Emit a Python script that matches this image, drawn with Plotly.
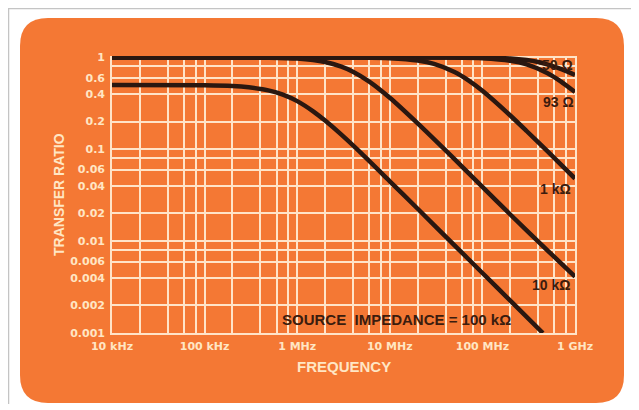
import plotly.graph_objects as go

# ---- data ----
x_tick_vals = [1e4, 1e5, 1e6, 1e7, 1e8, 1e9]
x_tick_text = ["10 kHz", "100 kHz", "1 MHz", "10 MHz", "100 MHz", "1 GHz"]
y_tick_vals = [1, 0.6, 0.4, 0.2, 0.1, 0.06, 0.04, 0.02, 0.01, 0.006, 0.004, 0.002, 0.001]
y_tick_text = ["1", "0.6", "0.4", "0.2", "0.1", "0.06", "0.04", "0.02", "0.01", "0.006", "0.004", "0.002", "0.001"]

r100k_f = [1e4, 1e5, 2e5, 3e5, 5e5, 7e5, 1e6, 1.5e6, 2e6, 3e6, 5e6, 1e7, 2e7, 5e7, 1e8, 2e8, 4.5e8]
r100k_v = [0.5, 0.497, 0.488, 0.472, 0.435, 0.393, 0.334, 0.257, 0.205, 0.144, 0.089, 0.0448, 0.0225, 0.009, 0.0045, 0.00225, 0.001]

r10k_f = [1e4, 1e5, 5e5, 1e6, 2e6, 3e6, 4e6, 6e6, 1e7, 2e7, 5e7, 1e8, 2e8, 5e8, 1e9]
r10k_v = [1, 1, 0.992, 0.969, 0.89, 0.793, 0.698, 0.545, 0.363, 0.191, 0.078, 0.039, 0.0195, 0.0080, 0.0041]

r1k_f = [1e4, 1e6, 5e6, 1e7, 2e7, 3e7, 5e7, 7e7, 1e8, 2e8, 3e8, 5e8, 1e9]
r1k_v = [1, 1, 0.995, 0.979, 0.923, 0.848, 0.693, 0.566, 0.433, 0.233, 0.158, 0.096, 0.048]

r93_f = [1e4, 1e7, 5e7, 1e8, 2e8, 3e8, 5e8, 7e8, 1e9]
r93_v = [1, 1, 0.994, 0.977, 0.917, 0.838, 0.677, 0.549, 0.42]

r50_f = [1e4, 1e7, 1e8, 2e8, 3e8, 4e8, 5e8, 7e8, 1e9]
r50_v = [1, 1, 0.993, 0.972, 0.935, 0.89, 0.84, 0.75, 0.645]

series = [
    (r50_f, r50_v), (r93_f, r93_v), (r1k_f, r1k_v), (r10k_f, r10k_v), (r100k_f, r100k_v)
]

# ---- layout geometry (window pixels; page body has an 8px margin) ----
OFF = 8
W, H = 639 - OFF, 410 - OFF
L, R, T, B = 112, 575, 56, 333

def xp(px):
    return (px - L) / (R - L)

def yp(py):
    return (B - py) / (B - T)

ORANGE = "#F47834"
GRID = "#FFE4C8"
CREAM = "#FFE6C4"
INK = "#2A1710"
LABEL = "#3B1C0E"

fig = go.Figure()
for f, v in series:
    fig.add_trace(go.Scatter(x=f, y=v, mode="lines", line=dict(color=INK, width=4.5, shape="spline", smoothing=0.6),
                             showlegend=False, hoverinfo="skip"))

minor_x = []
for d in [1e4, 1e5, 1e6, 1e7, 1e8]:
    for m in [2, 4, 6, 8]:
        minor_x.append(d * m)
minor_y = []
for d in [1e-3, 1e-2, 1e-1]:
    for m in [2, 4, 6, 8]:
        minor_y.append(d * m)

tickfont = dict(family="DejaVu Sans", size=11, color=CREAM, weight="bold")

fig.update_xaxes(type="log", range=[4, 9], tickmode="array", tickvals=x_tick_vals, ticktext=x_tick_text,
                 showgrid=True, gridcolor=GRID, gridwidth=1.6, ticks="", tickfont=tickfont,
                 showline=True, linecolor=GRID, linewidth=1.6, zeroline=False, ticklabelstandoff=2,
                 minor=dict(tickmode="array", tickvals=minor_x, showgrid=True, gridcolor=GRID, gridwidth=1.6, ticks=""))
fig.update_yaxes(type="log", range=[-3, 0.015], tickmode="array", tickvals=y_tick_vals, ticktext=y_tick_text,
                 showgrid=True, gridcolor=GRID, gridwidth=1.6, ticks="", tickfont=tickfont,
                 showline=True, mirror=True, linecolor=GRID, linewidth=1.6, zeroline=False, ticklabelstandoff=3,
                 minor=dict(tickmode="array", tickvals=minor_y, showgrid=True, gridcolor=GRID, gridwidth=1.6, ticks=""))

# card background
x0, x1 = xp(20), xp(624)
yT, yB = yp(18), yp(403)
rx, ry = 28 / (R - L), 28 / (B - T)
path = (f"M {x0+rx},{yT} L {x1-rx},{yT} Q {x1},{yT} {x1},{yT-ry} L {x1},{yB+ry} Q {x1},{yB} {x1-rx},{yB} "
        f"L {x0+rx},{yB} Q {x0},{yB} {x0},{yB+ry} L {x0},{yT-ry} Q {x0},{yT} {x0+rx},{yT} Z")
shapes = [
    dict(type="path", xref="paper", yref="paper", path=path, fillcolor=ORANGE, line=dict(width=0), layer="below"),
    dict(type="line", xref="paper", yref="paper", x0=xp(8), x1=xp(632), y0=yp(8.5), y1=yp(8.5),
         line=dict(color="#C4C4C4", width=1.5), layer="below"),
    dict(type="line", xref="paper", yref="paper", x0=xp(8.5), x1=xp(8.5), y0=yp(8), y1=yp(404),
         line=dict(color="#C4C4C4", width=1.5), layer="below"),
]

lab_font = dict(family="Liberation Sans", size=14, color=LABEL)
annotations = [
    dict(text="<b>50 Ω</b>", x=xp(557), y=yp(65)),
    dict(text="<b>93 Ω</b>", x=xp(558), y=yp(102)),
    dict(text="<b>1 kΩ</b>", x=xp(555), y=yp(189)),
    dict(text="<b>10 kΩ</b>", x=xp(551), y=yp(285)),
    dict(text="<b>SOURCE  IMPEDANCE = 100 kΩ</b>", x=xp(396), y=yp(319), font=dict(family="Liberation Sans", size=15, color=LABEL)),
    dict(text="<b>FREQUENCY</b>", x=xp(344), y=yp(366), font=dict(family="Liberation Sans", size=15, color=CREAM)),
    dict(text="<b>TRANSFER RATIO</b>", x=xp(59), y=yp(195), textangle=-90, font=dict(family="Liberation Sans", size=14, color=CREAM)),
]
for a in annotations:
    a.setdefault("font", lab_font)
    a.update(xref="paper", yref="paper", showarrow=False, xanchor="center", yanchor="middle")

fig.update_layout(width=W, height=H, margin=dict(l=L - OFF, r=639 - R, t=T - OFF, b=410 - B),
                  paper_bgcolor="white", plot_bgcolor="rgba(0,0,0,0)",
                  shapes=shapes, annotations=annotations, showlegend=False)

fig.write_html("out.html")
